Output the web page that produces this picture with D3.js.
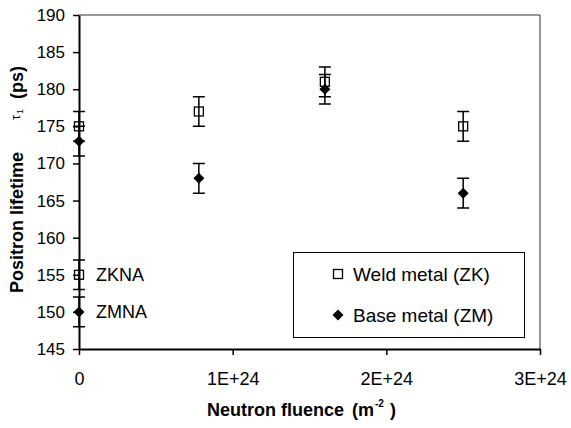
<!DOCTYPE html>
<html>
<head>
<meta charset="utf-8">
<script src="https://cdn.jsdelivr.net/npm/d3@7"></script>
<style>
  body { margin: 0; background: #fff; }
  text { font-family: Arial, "Liberation Sans", sans-serif; fill: #000; }
</style>
</head>
<body>
<div class="container"></div>
<script>
// positron lifetime tau1 vs neutron fluence
const width = 571;
const height = 428;
const margin = {left: 79, right: 31, top: 15, bottom: 79};

// data
const weldFluence = [0, 0.78e24, 1.6e24, 2.5e24];
const weldTau = [175, 177, 181, 175];
const weldErr = [2, 2, 2, 2];

const baseFluence = [0, 0.78e24, 1.6e24, 2.5e24];
const baseTau = [173, 168, 180, 166];
const baseErr = [2, 2, 2, 2];

// non-irradiated reference samples
const refNames = ['ZKNA', 'ZMNA'];
const refTau = [155, 150];
const refErr = [2, 2];
const refKind = ['weld', 'base'];

const xTicks = [0, 1e24, 2e24, 3e24];
const xTickLabels = ['0', '1E+24', '2E+24', '3E+24'];
const yTicks = [145, 150, 155, 160, 165, 170, 175, 180, 185, 190];

const svg = d3.select('.container')
    .append('svg')
    .attr('width', width)
    .attr('height', height);

const x = d3.scaleLinear().domain([0, 3e24]).range([margin.left, width - margin.right]);
const y = d3.scaleLinear().domain([145, 190]).range([height - margin.bottom, margin.top]);

// thin frame on top and right
svg.append('path')
    .attr('d', `M${x(0)},${y(190)}H${x(3e24)}V${y(145)}`)
    .attr('fill', 'none')
    .attr('stroke', '#333')
    .attr('stroke-width', 1);

// axes
const yAxis = d3.axisLeft(y).tickValues(yTicks).tickSize(6).tickPadding(8).tickSizeOuter(0);
const gy = svg.append('g').attr('transform', `translate(${x(0)},0)`).call(yAxis);

const xAxis = d3.axisBottom(x).tickValues(xTicks).tickFormat((d, i) => xTickLabels[i])
    .tickSize(6).tickPadding(17).tickSizeOuter(0);
const gx = svg.append('g').attr('transform', `translate(0,${y(145)})`).call(xAxis);

[gx, gy].forEach(g => {
    g.select('.domain').attr('stroke', '#000').attr('stroke-width', 2);
    g.selectAll('.tick line').attr('stroke', '#000').attr('stroke-width', 1.5);
    g.selectAll('.tick text').attr('font-family', 'Arial, "Liberation Sans", sans-serif');
});
gy.selectAll('.tick text').attr('font-size', 17);
gx.selectAll('.tick text').attr('font-size', 18);

// error bars
function errorBars(xs, ys, es) {
    const cap = 6;
    const g = svg.append('g').attr('stroke', '#000').attr('stroke-width', 1.5).attr('fill', 'none');
    ys.forEach((v, i) => {
        const cx = x(xs[i]);
        const y0 = y(v - es[i]);
        const y1 = y(v + es[i]);
        g.append('path').attr('d', `M${cx},${y0}V${y1}M${cx - cap},${y0}H${cx + cap}M${cx - cap},${y1}H${cx + cap}`);
    });
}

const diamond = s => `M0,${-s}L${s},0L0,${s}L${-s},0Z`;

function squares(xs, ys) {
    svg.append('g').selectAll('rect')
        .data(ys)
        .enter()
        .append('rect')
        .attr('x', (d, i) => x(xs[i]) - 4.5)
        .attr('y', d => y(d) - 4.5)
        .attr('width', 9)
        .attr('height', 9)
        .attr('fill', 'none')
        .attr('stroke', '#000')
        .attr('stroke-width', 1.3);
}

function diamonds(xs, ys) {
    svg.append('g').selectAll('path')
        .data(ys)
        .enter()
        .append('path')
        .attr('transform', (d, i) => `translate(${x(xs[i])},${y(d)})`)
        .attr('d', diamond(5.5))
        .attr('fill', '#000');
}

errorBars(weldFluence, weldTau, weldErr);
errorBars(baseFluence, baseTau, baseErr);
errorBars([0, 0], refTau, refErr);
diamonds(baseFluence, baseTau);
squares(weldFluence, weldTau);

// reference points
refTau.forEach((v, i) => {
    if (refKind[i] === 'weld') squares([0], [v]);
    else diamonds([0], [v]);
    svg.append('text')
        .attr('x', x(0) + 17)
        .attr('y', y(v))
        .attr('dy', '0.36em')
        .attr('font-size', 18)
        .text(refNames[i]);
});

// legend
const lg = svg.append('g');
lg.append('rect')
    .attr('x', 293.5).attr('y', 252.5)
    .attr('width', 231).attr('height', 85)
    .attr('fill', '#fff').attr('stroke', '#000').attr('stroke-width', 1);
lg.append('rect')
    .attr('x', 333.5).attr('y', 269.5).attr('width', 9).attr('height', 9)
    .attr('fill', 'none').attr('stroke', '#000').attr('stroke-width', 1.3);
lg.append('text').attr('x', 353).attr('y', 274).attr('dy', '0.36em').attr('font-size', 19).text('Weld metal (ZK)');
lg.append('path').attr('transform', 'translate(338,315)').attr('d', diamond(5.5)).attr('fill', '#000');
lg.append('text').attr('x', 353).attr('y', 315).attr('dy', '0.36em').attr('font-size', 19).text('Base metal (ZM)');

// axis titles
const bold = (t, px, py, size) => svg.append('text')
    .attr('x', px).attr('y', py)
    .attr('font-size', size)
    .attr('font-weight', 'bold')
    .text(t);

bold('Neutron fluence', 207, 416, 18);
bold('(m', 352, 416, 18);
bold('-2', 375, 407, 10);
bold(')', 390, 416, 18);

const yt = svg.append('g').attr('transform', 'translate(23,0) rotate(-90)');
yt.append('text').attr('x', -293).attr('y', 0)
    .attr('font-size', 18).attr('font-weight', 'bold').text('Positron lifetime');
yt.append('text').attr('x', -120).attr('y', -3)
    .attr('font-size', 13).text('τ');
yt.append('text').attr('x', -114).attr('y', 0)
    .attr('font-size', 9).text('1');
yt.append('text').attr('x', -99).attr('y', 0)
    .attr('font-size', 18).attr('font-weight', 'bold').text('(ps)');
</script>
</body>
</html>
